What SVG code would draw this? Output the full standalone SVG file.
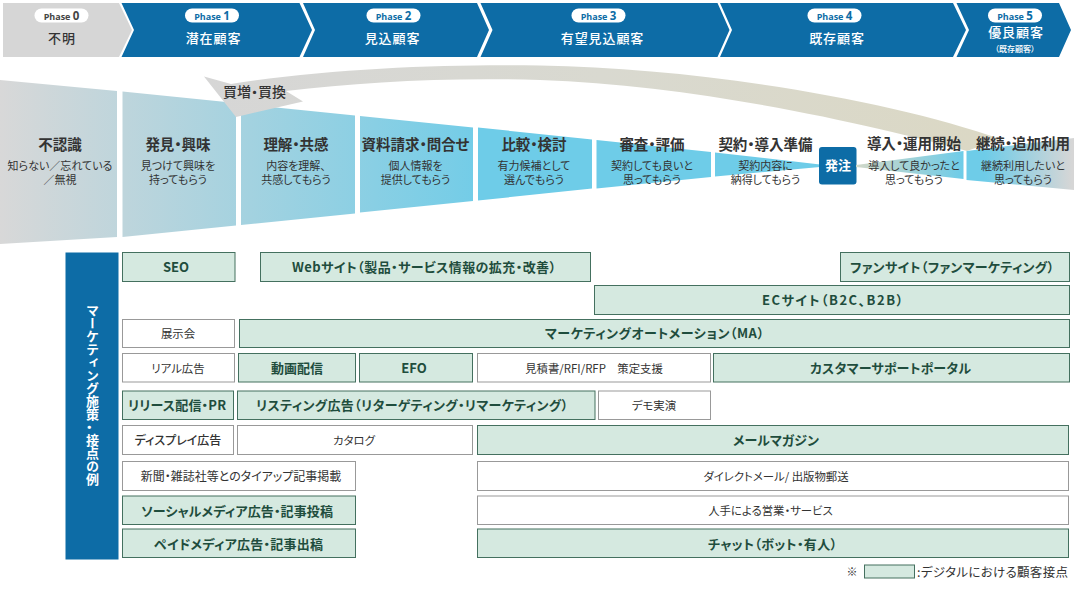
<svg xmlns="http://www.w3.org/2000/svg" width="1080" height="590" viewBox="0 0 1080 590">
<style>
text{font-family:"Noto Sans CJK JP","Noto Sans",sans-serif;text-anchor:middle;font-feature-settings:"palt"}
.blue{fill:#0d6ca6}.grey{fill:#d6d6d6}
.pill{fill:#fff}
.ph{font-family:"Open Sans","Noto Sans",sans-serif;font-size:9px;font-weight:700;fill:#0d6ca6}
.ph tspan{font-size:11.5px}
.ph0{fill:#444}
.nm{font-size:13px;font-weight:500;fill:#fff;letter-spacing:.9px}
.nm0{fill:#333}
.t{font-size:14.500px;font-weight:700;fill:#333}
.s{font-size:11px;fill:#333}
.g rect{fill:#d5e9e0;stroke:#44705f;stroke-width:1}
.g text{font-size:13px;font-weight:700;fill:#1f4d3d}
.w rect{fill:#fff;stroke:#999;stroke-width:1}
.w text{font-size:11.400px;fill:#333}
</style>
<defs>
<linearGradient id="fg" gradientUnits="userSpaceOnUse" x1="0" y1="0" x2="500" y2="0"><stop offset="0" stop-color="#d8d8d8"/><stop offset="1" stop-color="#6ecce8"/></linearGradient>
<linearGradient id="f7" gradientUnits="userSpaceOnUse" x1="856" y1="0" x2="963" y2="0"><stop offset="0" stop-color="#d2d8c8"/><stop offset="1" stop-color="#6ecce8"/></linearGradient>
<linearGradient id="f8" gradientUnits="userSpaceOnUse" x1="985" y1="0" x2="1072" y2="0"><stop offset="0" stop-color="#6ecce8"/><stop offset="1" stop-color="#d6d6d6"/></linearGradient>
<linearGradient id="ag" gradientUnits="userSpaceOnUse" x1="204" y1="0" x2="1000" y2="0"><stop offset="0" stop-color="#d6d6d6"/><stop offset=".5" stop-color="#d9d9d0"/><stop offset="1" stop-color="#dbd8c4"/></linearGradient>
</defs>

<g id="phases">
<g id="phase0"><polygon class="grey" points="3,3 119,3 132,30 119,57 3,57"/><rect class="pill" x="34.500" y="8.500" width="54" height="14" rx="7"/><text class="ph ph0" x="61.500" y="19.500">Phase <tspan>0</tspan></text><text class="nm nm0" x="62" y="43">不明</text></g>
<g id="phase1"><polygon class="blue" points="121.500,3 299.500,3 312,30 299.500,57 121.500,57 134,30"/><rect class="pill" x="185" y="8.500" width="54" height="14" rx="7"/><text class="ph" x="212" y="19.500">Phase <tspan>1</tspan></text><text class="nm" x="213.500" y="43">潜在顧客</text></g>
<g id="phase2"><polygon class="blue" points="303,3 477,3 489,30 477,57 303,57 315,30"/><rect class="pill" x="366.500" y="8.500" width="54" height="14" rx="7"/><text class="ph" x="393.500" y="19.500">Phase <tspan>2</tspan></text><text class="nm" x="392.500" y="43">見込顧客</text></g>
<g id="phase3"><polygon class="blue" points="480.500,3 717.500,3 729.500,30 717.500,57 480.500,57 492.500,30"/><rect class="pill" x="571.500" y="8.500" width="54" height="14" rx="7"/><text class="ph" x="598.500" y="19.500">Phase <tspan>3</tspan></text><text class="nm" x="602.500" y="43">有望見込顧客</text></g>
<g id="phase4"><polygon class="blue" points="720,3 953,3 966,30 953,57 720,57 732,30"/><rect class="pill" x="807.500" y="8.500" width="54" height="14" rx="7"/><text class="ph" x="834.500" y="19.500">Phase <tspan>4</tspan></text><text class="nm" x="837" y="43">既存顧客</text></g>
<g id="phase5"><polygon class="blue" points="956.500,3 1059,3 1071,30 1059,57 956.500,57 969,30"/><rect class="pill" x="988" y="8.500" width="54" height="14" rx="7"/><text class="ph" x="1015" y="19.500">Phase <tspan>5</tspan></text><text class="nm" x="1016" y="37">優良顧客</text><text x="1015" y="52" font-size="8" font-weight="500" fill="#fff">（既存顧客）</text></g>
</g>

<g id="funnel">
<g id="seg0"><polygon fill="url(#fg)" points="0,80 117,91 117,237 0,244"/><text class="t" x="60" y="150">不認識</text><text class="s" x="60" y="170">知らない／忘れている</text><text class="s" x="60" y="184">／無視</text></g>
<g id="seg1"><polygon fill="url(#fg)" points="122.500,91.500 236,103 236,225.500 122.500,237"/><text class="t" x="178" y="150">発見・興味</text><text class="s" x="178" y="170">見つけて興味を</text><text class="s" x="178" y="184">持ってもらう</text></g>
<g id="seg2"><polygon fill="url(#fg)" points="241,104 355,115.500 355,213.500 241,225"/><text class="t" x="296" y="150">理解・共感</text><text class="s" x="296" y="170">内容を理解、</text><text class="s" x="296" y="184">共感してもらう</text></g>
<g id="seg3"><polygon fill="url(#fg)" points="360,116 473,127.500 473,201 360,212.500"/><text class="t" x="415.500" y="150">資料請求・問合せ</text><text class="s" x="415.500" y="170">個人情報を</text><text class="s" x="415.500" y="184">提供してもらう</text></g>
<g id="seg4"><polygon fill="#6ecce8" points="478,127.500 592,139.500 592,188.500 478,200.500"/><text class="t" x="534" y="150">比較・検討</text><text class="s" x="534" y="170">有力候補として</text><text class="s" x="534" y="184">選んでもらう</text></g>
<g id="seg5"><polygon fill="#6ecce8" points="596.500,140 711,152 711,177 596.500,188.500"/><text class="t" x="652" y="150">審査・評価</text><text class="s" x="652" y="170">契約しても良いと</text><text class="s" x="652" y="184">思ってもらう</text></g>
<g id="seg6"><polygon fill="#6ecce8" points="715,152.500 820,164.500 820,167 715,176.500"/><text class="t" x="765.500" y="150">契約・導入準備</text><text class="s" x="765.500" y="170">契約内容に</text><text class="s" x="765.500" y="184">納得してもらう</text></g>
<g id="order"><rect class="blue" x="819" y="147" width="37.500" height="37.500" rx="3"/><text x="838" y="170" font-size="13" font-weight="700" fill="#fff">発注</text></g>
</g>

<g id="connectors">
<path id="repeat-arrow" fill="url(#ag)" d="M204,76.500 L231,84 C330,68 450,64 540,65.500 C700,68 890,100 1000,139 L967,151 C880,127 700,85 540,80 C450,77 360,82 286,91 L303,101.500 L236,117 Z"/>
</g>
<g id="repeat-label"><text x="254.500" y="97" font-size="14" font-weight="500" fill="#333">買増・買換</text></g>

<g id="seg7"><polygon fill="url(#f7)" points="856,165 963.500,151 963.500,179 856,167"/><text class="t" x="914" y="149">導入・運用開始</text><text class="s" x="914" y="170">導入して良かったと</text><text class="s" x="914" y="184">思ってもらう</text></g>
<g id="seg8"><polygon fill="url(#f8)" points="966.500,151 1074,138 1074,190 966.500,180"/><text class="t" x="1023" y="149">継続・追加利用</text><text class="s" x="1023" y="170">継続利用したいと</text><text class="s" x="1023" y="184">思ってもらう</text></g>

<g id="sidebar"><rect class="blue" x="65.500" y="252.500" width="53" height="307"/><text x="92.500" y="394.500" font-size="13" font-weight="700" fill="#fff" style="writing-mode:vertical-rl">マーケティング施策・接点の例</text></g>

<g id="touchpoints">
<g id="tp-seo" class="g"><rect x="122.500" y="252.500" width="112.500" height="29"/><text x="176" y="272">SEO</text></g>
<g id="tp-web" class="g"><rect x="260.500" y="252.500" width="330" height="29"/><text x="424" y="272" textLength="264" lengthAdjust="spacing">Webサイト（製品・サービス情報の拡充・改善）</text></g>
<g id="tp-fan" class="g"><rect x="840.500" y="252.500" width="229" height="29"/><text x="952" y="272" textLength="204" lengthAdjust="spacing">ファンサイト（ファンマーケティング）</text></g>
<g id="tp-ec" class="g"><rect x="594.500" y="285.500" width="475" height="29"/><text x="832.500" y="305" textLength="141" lengthAdjust="spacing">ECサイト（B2C、B2B）</text></g>
<g id="tp-expo" class="w"><rect x="122.500" y="319.500" width="112" height="28"/><text x="178" y="338">展示会</text></g>
<g id="tp-ma" class="g"><rect x="239.500" y="319.500" width="830" height="28"/><text x="654.500" y="338" textLength="219" lengthAdjust="spacing">マーケティングオートメーション（MA）</text></g>
<g id="tp-real" class="w"><rect x="122.500" y="353.500" width="112" height="28.500"/><text x="178" y="372.500">リアル広告</text></g>
<g id="tp-video" class="g"><rect x="238.500" y="353.500" width="117" height="28.500"/><text x="297" y="373">動画配信</text></g>
<g id="tp-efo" class="g"><rect x="359.500" y="353.500" width="113" height="28.500"/><text x="414" y="373">EFO</text></g>
<g id="tp-rfp" class="w"><rect x="477.500" y="353.500" width="233" height="28.500"/><text x="594" y="372.500">見積書/RFI/RFP　策定支援</text></g>
<g id="tp-portal" class="g"><rect x="713.500" y="353.500" width="356" height="28.500"/><text x="890.500" y="373" textLength="161" lengthAdjust="spacing">カスタマーサポートポータル</text></g>
<g id="tp-pr" class="g"><rect x="122.500" y="391" width="111" height="28.500"/><text x="177" y="410" textLength="98" lengthAdjust="spacing">リリース配信・PR</text></g>
<g id="tp-listing" class="g"><rect x="237.500" y="391" width="357.500" height="28.500"/><text x="412" y="410" textLength="312" lengthAdjust="spacing">リスティング広告（リターゲティング・リマーケティング）</text></g>
<g id="tp-demo" class="w"><rect x="598.500" y="391" width="112" height="28.500"/><text x="654" y="410">デモ実演</text></g>
<g id="tp-display" class="w"><rect x="122.500" y="425.500" width="111" height="29"/><text x="178" y="444.500" style="font-size:12px;font-weight:500">ディスプレイ広告</text></g>
<g id="tp-catalog" class="w"><rect x="237.500" y="425.500" width="235" height="29"/><text x="354" y="444.500">カタログ</text></g>
<g id="tp-mail" class="g"><rect x="477.500" y="425.500" width="591" height="29"/><text x="776" y="445">メールマガジン</text></g>
<g id="tp-news" class="w"><rect x="122.500" y="461.500" width="233" height="29"/><text x="241" y="480.500" style="font-size:12px">新聞・雑誌社等とのタイアップ記事掲載</text></g>
<g id="tp-dm" class="w"><rect x="477.500" y="461.500" width="591" height="29"/><text x="776" y="481">ダイレクトメール/ 出版物郵送</text></g>
<g id="tp-social" class="g"><rect x="122.500" y="496" width="233" height="28.500"/><text x="237" y="515.500" textLength="192" lengthAdjust="spacing">ソーシャルメディア広告・記事投稿</text></g>
<g id="tp-sales" class="w"><rect x="477.500" y="496" width="591" height="28.500"/><text x="770.500" y="515">人手による営業・サービス</text></g>
<g id="tp-paid" class="g"><rect x="122.500" y="529" width="233" height="28.500"/><text x="238.500" y="549" textLength="169" lengthAdjust="spacing">ペイドメディア広告・記事出稿</text></g>
<g id="tp-chat" class="g"><rect x="477.500" y="529" width="591" height="28.500"/><text x="772.500" y="549" textLength="129" lengthAdjust="spacing">チャット（ボット・有人）</text></g>
</g>

<g id="legend" class="g"><text x="852" y="576" style="font-size:11px;font-weight:400;fill:#333">※</text><rect x="864.500" y="565" width="50" height="13"/><text x="992.500" y="576.500" textLength="151" lengthAdjust="spacing" style="font-size:12.500px;font-weight:400;fill:#333">:デジタルにおける顧客接点</text></g>
</svg>
